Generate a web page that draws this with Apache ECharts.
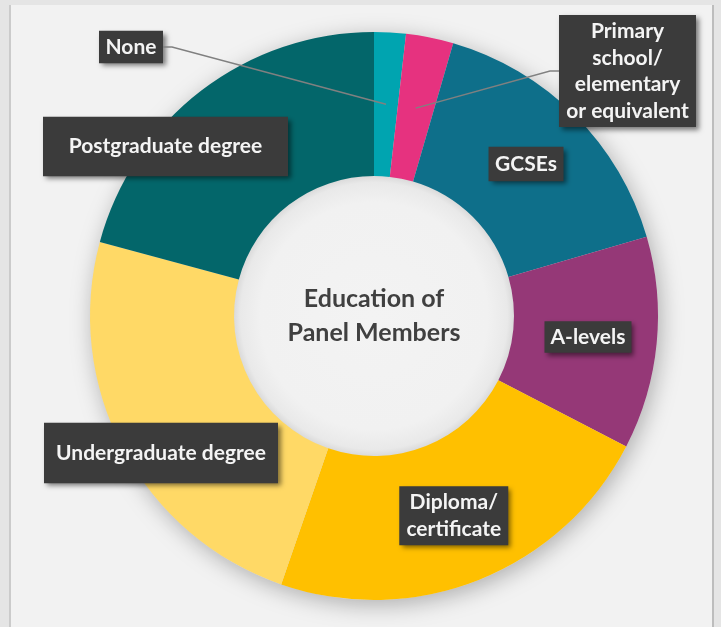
<!DOCTYPE html>
<html>
<head>
<meta charset="utf-8">
<script src="https://cdn.jsdelivr.net/npm/echarts@6/dist/echarts.min.js"></script>
<style>
  html, body { margin: 0; padding: 0; background: #e5e5e5; }
  #wrap { position: relative; width: 721px; height: 627px; overflow: hidden; }
  #panel { position: absolute; left: 9px; top: 5px; width: 701px; height: 640px;
           background: #f2f2f2; border-left: 2px solid #cbcbcb; border-right: 2px solid #bdbdbd; }
  #chart { position: absolute; left: 0; top: 0; width: 721px; height: 627px; }
</style>
</head>
<body>
<div id="wrap"><div id="panel"></div><div id="chart"></div></div>
<script>
// Highest level of education reached by panel members (share of panel, %)
const categories = [
  'None',
  'Primary\nschool/\nelementary\nor equivalent',
  'GCSEs',
  'A-levels',
  'Diploma/\ncertificate',
  'Undergraduate degree',
  'Postgraduate degree'
];
const shares = [1.8, 2.7, 16.0, 12.1, 22.7, 23.9, 20.8];
const sliceColors = ['#00a4b0', '#e6327f', '#0e6f8a', '#953877', '#ffc000', '#ffd966', '#03666a'];
const centerTitle = 'Education of\nPanel Members';

// ring geometry
const CX = 374, CY = 316, R_IN = 140, R_OUT = 284;

// label boxes: fixed width and vertical padding
const boxStyle = [
  { width: 64,  padV: 3 },
  { width: 137, padV: 3 },
  { width: 75,  padV: 4 },
  { width: 87,  padV: 2.5 },
  { width: 109, padV: 3 },
  { width: 234, padV: 17 },
  { width: 245, padV: 16.5 }
];
// box centres that differ from the default in-ring spot; the two thin
// slices also get a leader line (elbow point, then box edge)
const placements = [
  { x: 131, y: 47, elbow: [172, 47], end: [163, 47] },
  { x: 627.5, y: 71, elbow: [550, 71], end: [559, 71] },
  null,
  null,
  null,
  { x: 161, y: 453 },
  { x: 165.5, y: 146.5 }
];

const chart = echarts.init(document.getElementById('chart'));

const seriesData = categories.map(function (name, i) {
  const outside = placements[i] && placements[i].elbow != null;
  return {
    name: name,
    value: shares[i],
    itemStyle: { color: sliceColors[i] },
    label: {
      position: outside ? 'outside' : 'inside',
      width: boxStyle[i].width,
      padding: [boxStyle[i].padV, 0, boxStyle[i].padV, 0]
    }
  };
});

chart.setOption({
  animation: false,
  graphic: [
    {
      id: 'ringBase',
      type: 'circle',
      z: -10,
      silent: true,
      shape: { cx: CX, cy: CY, r: R_OUT },
      style: {
        fill: {
          type: 'radial', x: 0.5, y: 0.5, r: 0.5,
          colorStops: [
            { offset: 0, color: '#f3f3f3' },
            { offset: 0.40, color: '#f1f1f1' },
            { offset: 0.47, color: '#e9e9e9' },
            { offset: 0.495, color: '#d9d9d9' },
            { offset: 1, color: '#d9d9d9' }
          ]
        },
        shadowBlur: 22,
        shadowColor: 'rgba(0,0,0,0.28)',
        shadowOffsetX: 3,
        shadowOffsetY: 5
      }
    },
    {
      id: 'centerTitle',
      type: 'text',
      z: 10,
      silent: true,
      x: CX,
      y: CY,
      style: {
        text: centerTitle,
        align: 'center',
        verticalAlign: 'middle',
        fill: '#404040',
        font: 'bold 25px Lato',
        lineHeight: 34
      }
    }
  ],
  series: [
    {
      type: 'pie',
      center: [CX, CY],
      radius: [R_IN, R_OUT],
      startAngle: 90,
      clockwise: true,
      avoidLabelOverlap: false,
      silent: true,
      data: seriesData,
      label: {
        show: true,
        color: '#f4f4f4',
        fontFamily: 'Lato',
        fontWeight: 'bold',
        fontSize: 21,
        lineHeight: 26.5,
        align: 'center',
        overflow: 'none',
        backgroundColor: '#3b3b3b',
        shadowColor: 'rgba(0,0,0,0.5)',
        shadowBlur: 5,
        shadowOffsetX: 3,
        shadowOffsetY: 3,
        formatter: '{b}'
      },
      labelLine: { show: false },
      labelLayout: function (p) {
        const place = placements[p.dataIndex];
        if (!place) return {};
        return { x: place.x, y: place.y, align: 'center', verticalAlign: 'middle' };
      }
    }
  ]
});

// leader lines for the thin slices, drawn over the ring from the slice's
// mid-angle / mid-radius point (taken from the pie layout) to the label box
const pieData = chart.getModel().getSeriesByIndex(0).getData();
const guides = [];
placements.forEach(function (pl, i) {
  if (!pl || !pl.elbow) return;
  const L = pieData.getItemLayout(i);
  const mid = (L.startAngle + L.endAngle) / 2;
  const rm = (L.r + L.r0) / 2;
  const anchor = [L.cx + rm * Math.cos(mid), L.cy + rm * Math.sin(mid)];
  guides.push({
    id: 'guide' + i,
    type: 'polyline',
    z: 5,
    silent: true,
    shape: { points: [anchor, pl.elbow, pl.end] },
    style: { stroke: '#808080', lineWidth: 1.5, fill: null }
  });
});
chart.setOption({ graphic: guides });
</script>
</body>
</html>
